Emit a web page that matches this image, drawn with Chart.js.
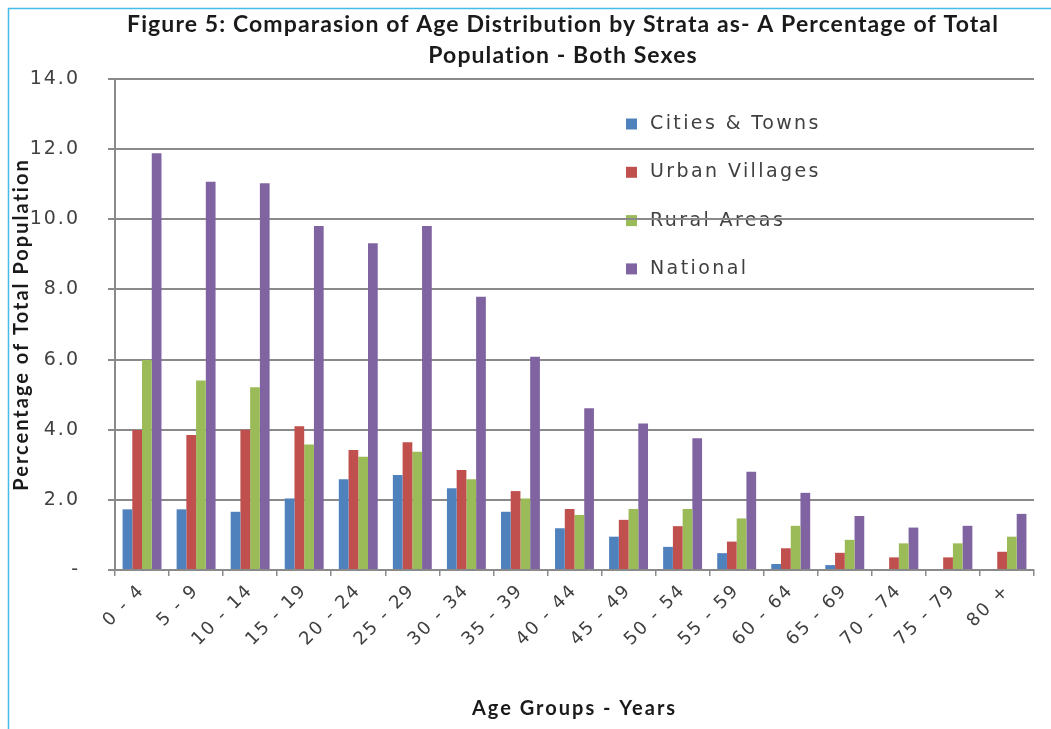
<!DOCTYPE html>
<html>
<head>
<meta charset="utf-8">
<script src="https://cdn.jsdelivr.net/npm/chart.js@4.4.1/dist/chart.umd.min.js"></script>
<style>
  html, body { margin: 0; padding: 0; background: #ffffff; }
  #wrap { width: 1051px; height: 729px; position: relative; }
</style>
</head>
<body>
<div id="wrap"><canvas id="chart" width="1051" height="729"></canvas></div>
<script>
// Age groups on the category axis
const ageGroups = ['0 - 4', '5 - 9', '10 - 14', '15 - 19', '20 - 24', '25 - 29', '30 - 34', '35 - 39',
  '40 - 44', '45 - 49', '50 - 54', '55 - 59', '60 - 64', '65 - 69', '70 - 74', '75 - 79', '80 +'];

// Percentage of total population per stratum
const citiesTowns   = [1.73, 1.73, 1.66, 2.04, 2.59, 2.71, 2.33, 1.66, 1.19, 0.95, 0.66, 0.48, 0.17, 0.14, 0, 0, 0];
const urbanVillages = [3.99, 3.85, 4.00, 4.10, 3.42, 3.64, 2.85, 2.25, 1.74, 1.43, 1.25, 0.81, 0.62, 0.49, 0.36, 0.36, 0.52];
const ruralAreas    = [5.99, 5.40, 5.21, 3.58, 3.23, 3.37, 2.59, 2.04, 1.57, 1.74, 1.74, 1.47, 1.26, 0.86, 0.76, 0.76, 0.95];
const national      = [11.88, 11.07, 11.03, 9.81, 9.32, 9.81, 7.79, 6.08, 4.61, 4.18, 3.76, 2.80, 2.20, 1.54, 1.21, 1.26, 1.60];

const seriesNames  = ['Cities & Towns', 'Urban Villages', 'Rural Areas', 'National'];
const seriesColors = ['#4F81BD', '#C0504D', '#9BBB59', '#8064A2'];

// Value-axis labels, one per 2.0 step (zero shown as a dash)
const yTickLabels = ['-', '2.0', '4.0', '6.0', '8.0', '10.0', '12.0', '14.0'];

const titleLines = ['Figure 5: Comparasion of Age Distribution by Strata as- A Percentage of Total',
  'Population - Both Sexes'];
const xAxisTitle = 'Age Groups - Years';
const yAxisTitle = 'Percentage of Total Population';

const GRID = '#8a8a8a';
const TEXT = '#404040';
const TICK_FONT = 'DejaVu Sans';
const BOLD_FONT = 'Lato';

// Wrap a scale's draw so its text gets its own letter spacing
function withSpacing(spacing) {
  return function (scale) {
    if (scale._spacedDraw) return;
    const draw = scale.draw.bind(scale);
    scale.draw = function (area) {
      const ctx = this.ctx;
      const prev = ctx.letterSpacing;
      ctx.letterSpacing = spacing;
      draw(area);
      ctx.letterSpacing = prev;
    };
    scale._spacedDraw = true;
  };
}

// Frame, heading and in-plot legend (legend sits beneath the grid lines)
const decorPlugin = {
  id: 'decor',
  beforeDraw(chart) {
    const ctx = chart.ctx;
    ctx.letterSpacing = '0px';

    ctx.save();
    ctx.strokeStyle = '#45BDEA';
    ctx.lineWidth = 1.5;
    ctx.beginPath();
    ctx.moveTo(8.5, 729); ctx.lineTo(8.5, 8.5); ctx.lineTo(1051, 8.5);
    ctx.stroke();
    ctx.restore();

    ctx.save();
    ctx.letterSpacing = '1.1px';
    ctx.fillStyle = '#1a1a1a';
    ctx.font = 'bold 23px ' + BOLD_FONT;
    ctx.textAlign = 'center';
    ctx.textBaseline = 'middle';
    ctx.fillText(titleLines[0], 563, 25);
    ctx.fillText(titleLines[1], 563, 56);
    ctx.restore();

    ctx.save();
    ctx.letterSpacing = '2.4px';
    ctx.font = '19px "' + TICK_FONT + '"';
    ctx.textAlign = 'left';
    ctx.textBaseline = 'middle';
    chart.data.datasets.forEach((ds, i) => {
      const y = 124 + i * 48.3;
      ctx.fillStyle = ds.backgroundColor;
      ctx.fillRect(626, y - 5.5, 11, 11);
      ctx.fillStyle = TEXT;
      ctx.fillText(ds.label, 650, y);
    });
    ctx.restore();
  }
};

const datasets = [citiesTowns, urbanVillages, ruralAreas, national].map((values, i) => ({
  label: seriesNames[i],
  data: values,
  backgroundColor: seriesColors[i],
  borderWidth: 0,
  categoryPercentage: 0.72,
  barPercentage: 1.0
}));

new Chart(document.getElementById('chart'), {
  type: 'bar',
  data: { labels: ageGroups, datasets },
  plugins: [decorPlugin],
  options: {
    responsive: false,
    animation: false,
    devicePixelRatio: 1,
    layout: { padding: { top: 79, right: 17, bottom: 0, left: 0 } },
    plugins: {
      legend: { display: false },
      title: { display: false },
      tooltip: { enabled: false }
    },
    scales: {
      x: {
        offset: true,
        grid: { display: true, drawOnChartArea: false, drawTicks: true, tickLength: 6, color: GRID, lineWidth: 1.5, offset: true },
        border: { display: true, color: GRID, width: 2 },
        ticks: {
          autoSkip: false, maxRotation: 45, minRotation: 45, padding: 4,
          color: TEXT, font: { family: TICK_FONT, size: 18 }
        },
        title: {
          display: true, text: xAxisTitle, color: '#1a1a1a',
          font: { family: BOLD_FONT, size: 20, weight: 'bold' },
          padding: { top: 0, bottom: 8 }
        },
        afterFit(scale) { scale.height = 159; },
        afterUpdate: withSpacing('2px')
      },
      y: {
        min: 0, max: 14,
        grid: { color: GRID, lineWidth: 2, tickLength: 7, drawTicks: true },
        border: { display: true, color: GRID, width: 2 },
        ticks: {
          stepSize: 2, padding: 28, color: TEXT,
          font: { family: TICK_FONT, size: 19 },
          callback: (value) => yTickLabels[Math.round(value / 2)]
        },
        title: {
          display: true, text: yAxisTitle, color: '#1a1a1a',
          font: { family: BOLD_FONT, size: 20, weight: 'bold' },
          padding: { top: 10, bottom: 0 }
        },
        afterFit(scale) { scale.width = 115; },
        afterUpdate: withSpacing('2px')
      }
    }
  }
});
</script>
</body>
</html>
